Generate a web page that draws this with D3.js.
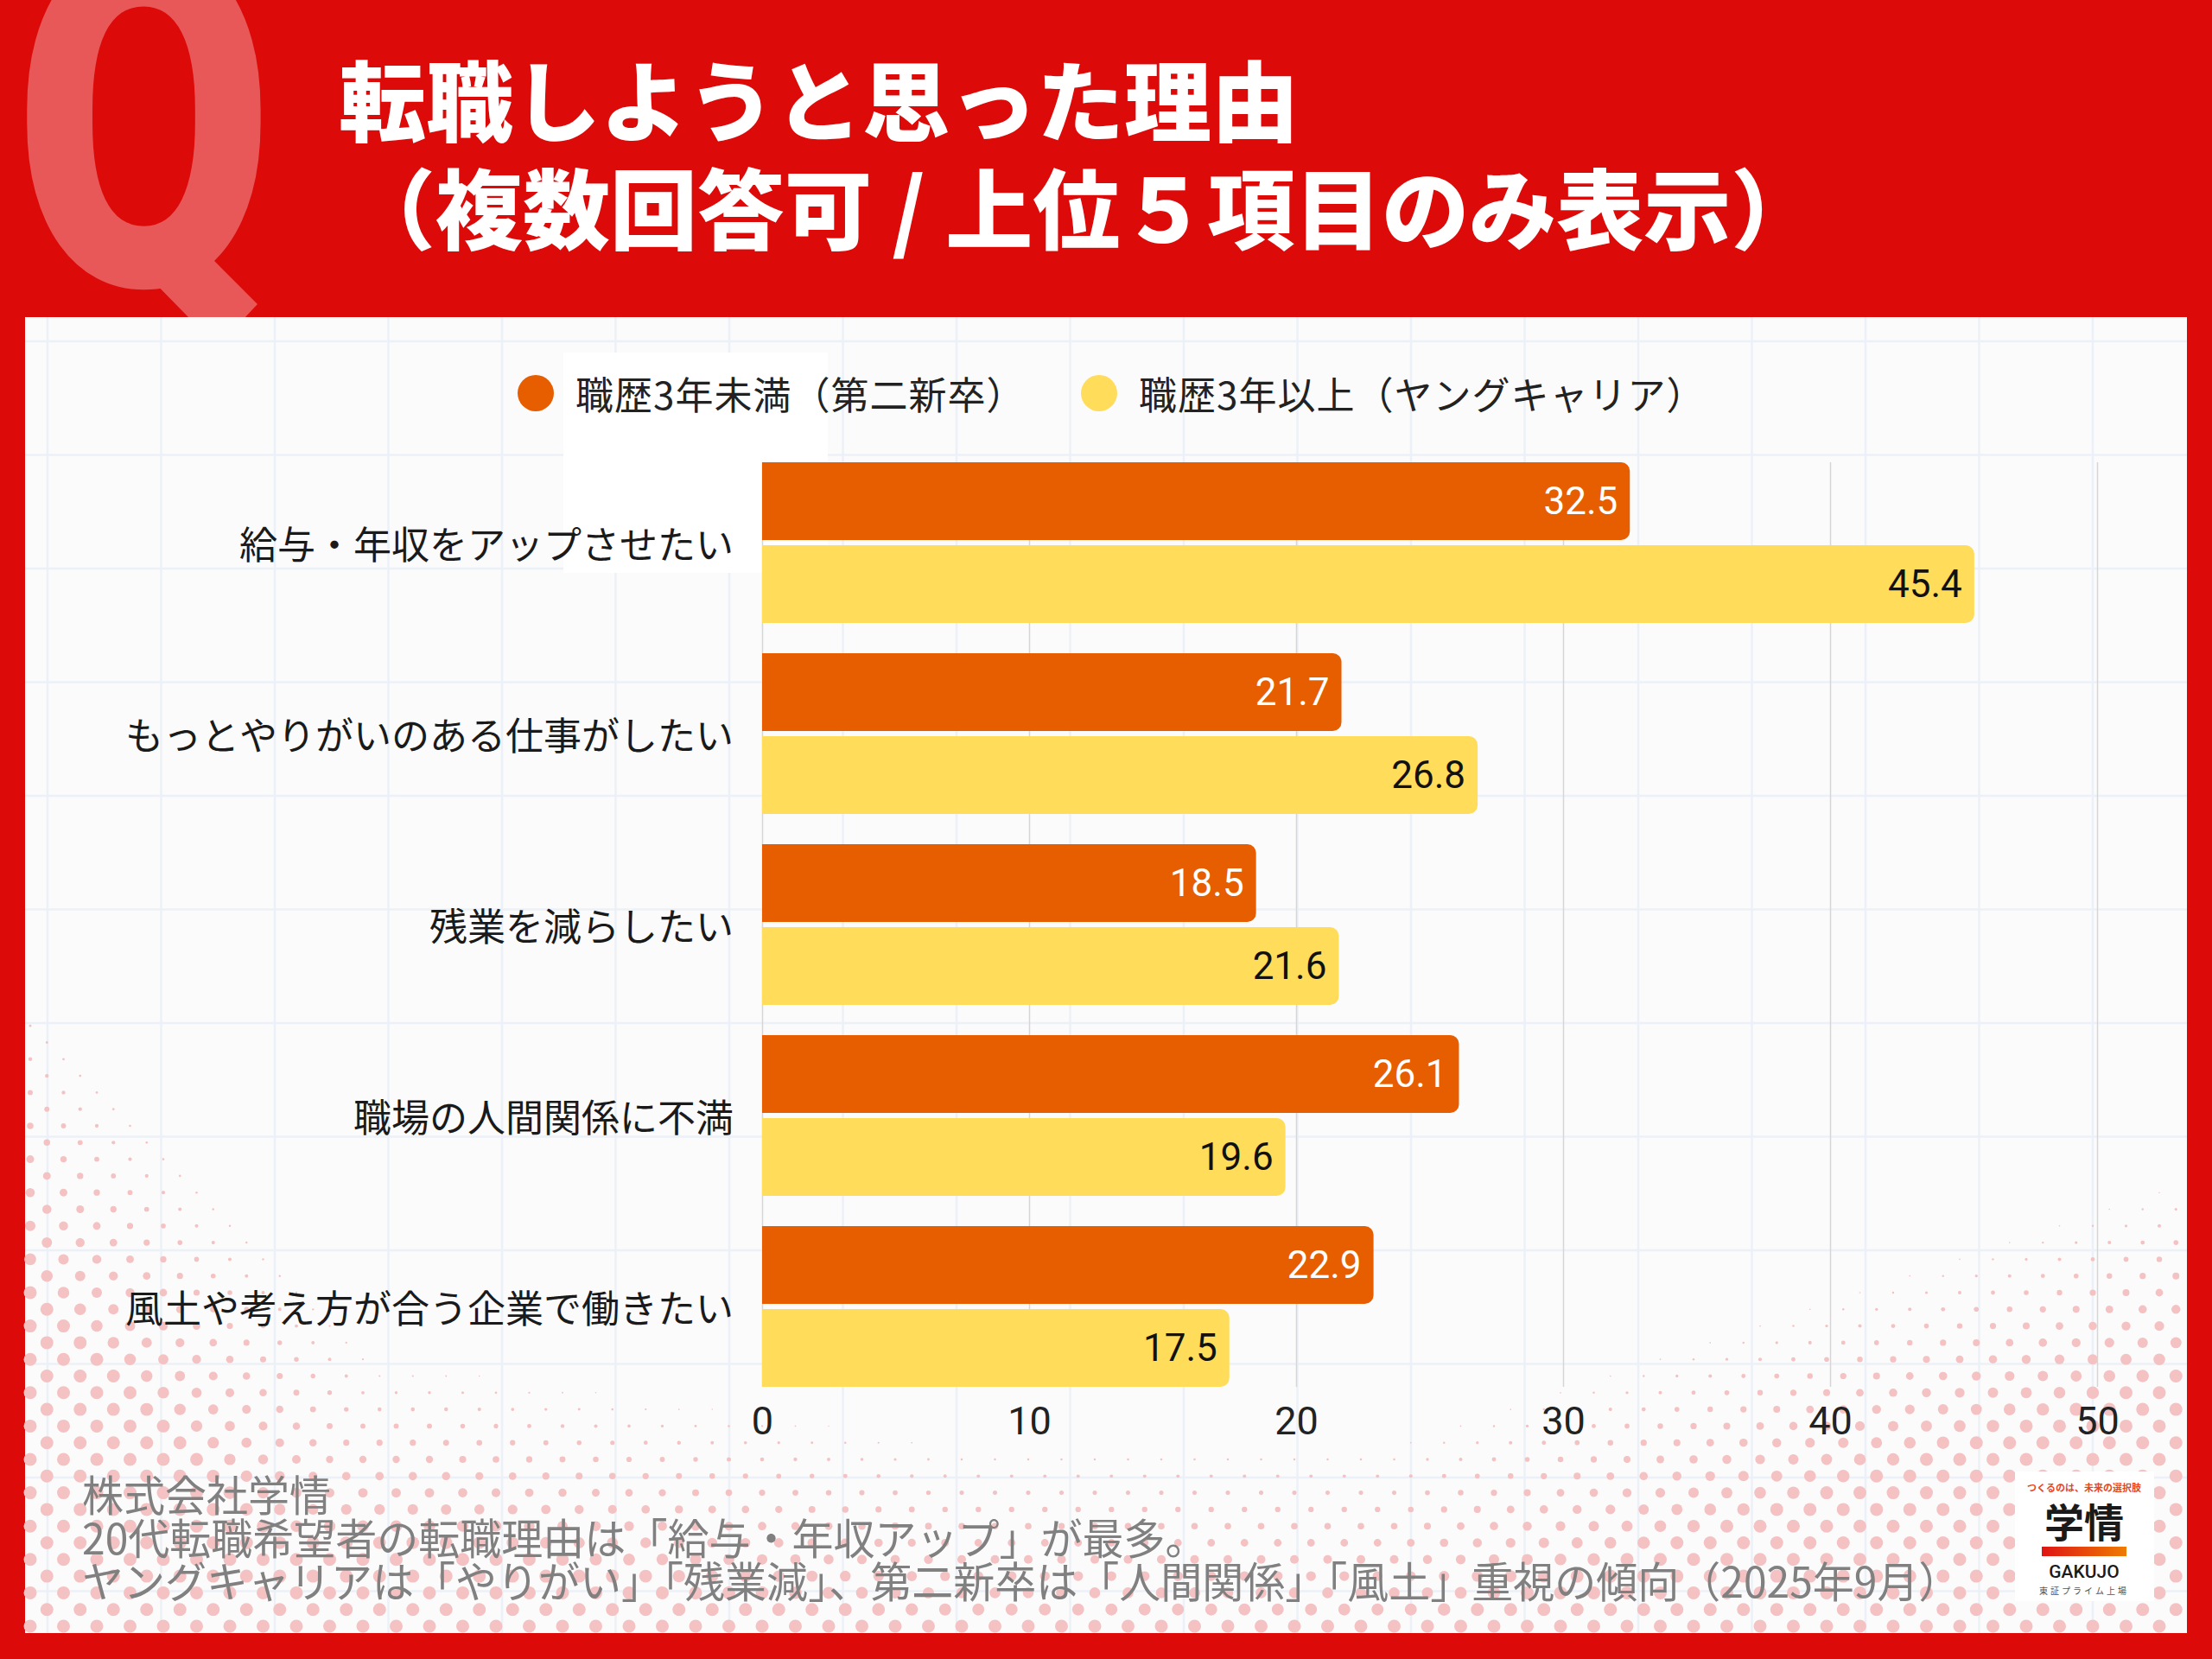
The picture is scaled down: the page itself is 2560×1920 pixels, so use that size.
<!DOCTYPE html>
<html>
<head>
<meta charset="utf-8">
<script src="https://cdn.jsdelivr.net/npm/d3@7"></script>
<style>
  body { margin: 0; background: #dd0a0a; }
  svg { display: block; }
</style>
</head>
<body>
<svg id="chart" width="2560" height="1920"></svg>
<script>
const titleLines = ["転職しようと思った理由", "（複数回答可 / 上位５項目のみ表示）"];
const categories = [
    "給与・年収をアップさせたい",
    "もっとやりがいのある仕事がしたい",
    "残業を減らしたい",
    "職場の人間関係に不満",
    "風土や考え方が合う企業で働きたい"
];
const seriesNames = ["職歴3年未満（第二新卒）", "職歴3年以上（ヤングキャリア）"];
const shinsotsu = [32.5, 21.7, 18.5, 26.1, 22.9];
const youngCareer = [45.4, 26.8, 21.6, 19.6, 17.5];
const xTicks = [0, 10, 20, 30, 40, 50];
const footerLines = [
    "株式会社学情",
    "20代転職希望者の転職理由は「給与・年収アップ」が最多。",
    "ヤングキャリアは「やりがい」「残業減」、第二新卒は「人間関係」「風土」重視の傾向（2025年9月）"
];

const seriesColors = ["#e65e00", "#ffdc5a"];
const valueColors = ["#ffffff", "#111111"];
const jpFont = "'Noto Sans CJK JP', 'Noto Sans', sans-serif";
const numFont = "Roboto, 'Noto Sans', sans-serif";

const svg = d3.select("#chart");

// red background + big faded Q
svg.append("rect").attr("width", 2560).attr("height", 1920).attr("fill", "#dd0a0a");
svg.append("text")
    .attr("transform", "translate(166,330) scale(0.79,1)")
    .attr("text-anchor", "middle")
    .attr("font-family", "Roboto")
    .attr("font-weight", 900)
    .attr("font-size", 550)
    .attr("fill", "#ffffff")
    .attr("fill-opacity", 0.32)
    .text("Q");

const title = svg.append("g")
    .attr("font-family", jpFont)
    .attr("font-weight", 900)
    .attr("font-size", 101)
    .attr("fill", "#ffffff");
title.append("text").attr("x", 392).attr("y", 156).text(titleLines[0]);
title.append("text").attr("x", 403).attr("y", 281).text(titleLines[1]);

// white panel
const panel = { x0: 29, y0: 367, x1: 2531, y1: 1890 };
svg.append("rect")
    .attr("x", panel.x0).attr("y", panel.y0)
    .attr("width", panel.x1 - panel.x0).attr("height", panel.y1 - panel.y0)
    .attr("fill", "#fbfbfc");

// faint squared paper
const paper = svg.append("g").attr("stroke", "#ecf0f7").attr("stroke-width", 2.5);
d3.range(55, panel.x1, 131.5).forEach(gx => {
    paper.append("line").attr("x1", gx).attr("x2", gx).attr("y1", panel.y0).attr("y2", panel.y1);
});
d3.range(395, panel.y1, 131.5).forEach(gy => {
    paper.append("line").attr("x1", panel.x0).attr("x2", panel.x1).attr("y1", gy).attr("y2", gy);
});

// halftone dots in the lower corners
const clamp = v => Math.max(0, Math.min(1, v));
function dotSize(px, py) {
    const sL = (0.69 * (py - 1110) - 0.72 * (px - 30)) / 260;
    const sR = (0.316 * (px - 2150) + 0.949 * (py - 1470)) / 230;
    const sB = (py - (1560 + 90 * clamp((px - 500) / 600))) / 230;
    return 7.5 * clamp(Math.max(sL, sR, sB));
}
const dots = svg.append("g").attr("fill", "#f4c2c2");
d3.range(0, 80).forEach(j => {
    const dy = panel.y1 - 8 - j * 19.3;
    if (dy < panel.y0) return;
    const off = (j % 2) * 19.25;
    d3.range(0, 70).forEach(i => {
        const dx = panel.x0 + 6 + off + i * 38.5;
        if (dx > panel.x1 - 4) return;
        const r = dotSize(dx, dy);
        if (r > 0.7) dots.append("circle").attr("cx", dx).attr("cy", dy).attr("r", r);
    });
});

svg.append("rect").attr("x", 652).attr("y", 408).attr("width", 306).attr("height", 255).attr("fill", "#ffffff");

// legend
const legend = svg.append("g")
    .attr("font-family", jpFont).attr("font-size", 44)
    .attr("letter-spacing", 1).attr("fill", "#222");
const legendX = [620, 1272];
seriesNames.forEach((name, k) => {
    legend.append("circle").attr("cx", legendX[k]).attr("cy", 455).attr("r", 21).attr("fill", seriesColors[k]);
    legend.append("text").attr("x", legendX[k] + 46).attr("y", 455)
        .attr("dominant-baseline", "central").text(name);
});

// scales
const x = d3.scaleLinear().domain([0, 50]).range([882, 2427]);
const y0 = d3.scaleBand().domain(categories).range([535, 1605]).paddingInner(35 / 221);
const y1 = d3.scaleBand().domain([0, 1]).range([0, y0.bandwidth()]).paddingInner(0.0625);

const rows = categories.map((c, i) => ({ cat: c, values: [shinsotsu[i], youngCareer[i]] }));

// grid
svg.append("g")
    .attr("transform", `translate(0,${1605})`)
    .call(d3.axisBottom(x).tickValues(xTicks).tickSize(-(1605 - 535)).tickFormat(""))
    .call(g => g.select(".domain").remove())
    .call(g => g.selectAll(".tick line").attr("stroke", "#d6d6d6").attr("stroke-width", 1.5));

function barPath(bx, by, w, h, r) {
    r = Math.min(r, w / 2, h / 2);
    return `M${bx},${by}H${bx + w - r}A${r},${r} 0 0 1 ${bx + w},${by + r}` +
        `V${by + h - r}A${r},${r} 0 0 1 ${bx + w - r},${by + h}H${bx}Z`;
}

const groups = svg.append("g").selectAll("g")
    .data(rows).enter().append("g")
    .attr("transform", d => `translate(0,${y0(d.cat)})`);

groups.selectAll("path")
    .data(d => d.values)
    .enter().append("path")
    .attr("d", (v, k) => barPath(x(0), y1(k), x(v) - x(0), y1.bandwidth(), 10))
    .attr("fill", (v, k) => seriesColors[k]);

groups.selectAll("text.value")
    .data(d => d.values)
    .enter().append("text")
    .attr("class", "value")
    .attr("x", v => x(v) - 14)
    .attr("y", (v, k) => y1(k) + y1.bandwidth() / 2)
    .attr("text-anchor", "end")
    .attr("dominant-baseline", "central")
    .attr("font-family", numFont)
    .attr("font-size", 44)
    .attr("fill", (v, k) => valueColors[k])
    .text(v => v.toFixed(1));

// category labels
svg.append("g").selectAll("text")
    .data(categories).enter().append("text")
    .attr("x", 849)
    .attr("y", d => y0(d) + y0.bandwidth() / 2)
    .attr("text-anchor", "end")
    .attr("dominant-baseline", "central")
    .attr("font-family", jpFont)
    .attr("font-size", 44)
    .attr("fill", "#1a1a1a")
    .text(d => d);

// x axis labels
svg.append("g")
    .attr("transform", `translate(0,${1605})`)
    .call(d3.axisBottom(x).tickValues(xTicks).tickSize(0).tickPadding(23))
    .call(g => g.select(".domain").remove())
    .call(g => g.selectAll(".tick text")
        .attr("font-family", numFont)
        .attr("font-size", 45)
        .attr("fill", "#222"));

// footer
const footer = svg.append("g")
    .attr("transform", "translate(95,0) scale(0.98,1)")
    .attr("font-family", jpFont)
    .attr("font-size", 49)
    .attr("fill", "#808080");
footerLines.forEach((t, i) => {
    footer.append("text").attr("x", 0).attr("y", 1749 + i * 50).text(t);
});

// logo
const defs = svg.append("defs");
const grad = defs.append("linearGradient").attr("id", "logoGrad");
grad.append("stop").attr("offset", "0%").attr("stop-color", "#df1414");
grad.append("stop").attr("offset", "100%").attr("stop-color", "#ef7c00");

const logo = svg.append("g");
logo.append("rect").attr("x", 2332).attr("y", 1703).attr("width", 161).attr("height", 150).attr("fill", "#ffffff");
logo.append("text").attr("x", 2412).attr("y", 1726).attr("text-anchor", "middle")
    .attr("font-family", jpFont).attr("font-weight", 700).attr("font-size", 11)
    .attr("fill", "#e8461a").text("つくるのは、未来の選択肢");
logo.append("text").attr("x", 2412).attr("y", 1779).attr("text-anchor", "middle")
    .attr("font-family", jpFont).attr("font-weight", 700).attr("font-size", 46)
    .attr("fill", "#1a1a1a").text("学情");
logo.append("rect").attr("x", 2363).attr("y", 1790).attr("width", 98).attr("height", 11).attr("fill", "url(#logoGrad)");
logo.append("text").attr("x", 2412).attr("y", 1826).attr("text-anchor", "middle")
    .attr("font-family", "Roboto").attr("font-weight", 500).attr("font-size", 21)
    .attr("fill", "#1a1a1a").text("GAKUJO");
logo.append("text").attr("x", 2412).attr("y", 1845).attr("text-anchor", "middle")
    .attr("font-family", jpFont).attr("font-size", 10).attr("letter-spacing", 3)
    .attr("fill", "#555").text("東証プライム上場");
</script>
</body>
</html>
